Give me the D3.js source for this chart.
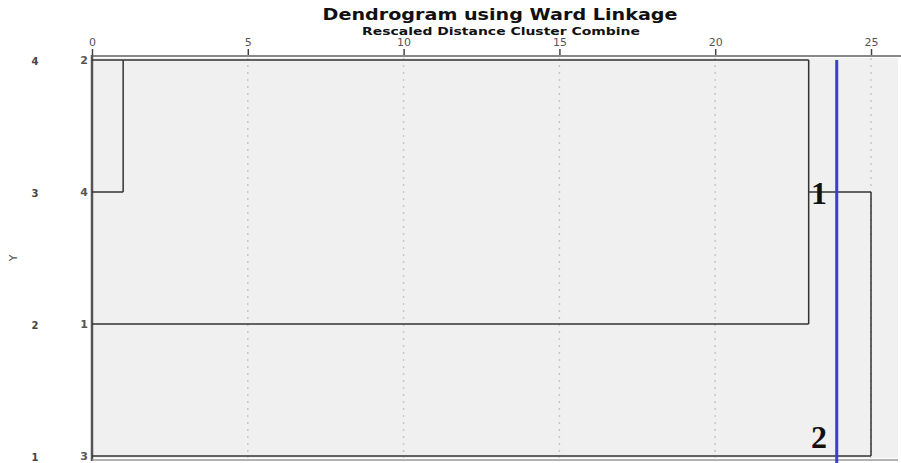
<!DOCTYPE html>
<html>
<head>
<meta charset="utf-8">
<script src="https://cdn.jsdelivr.net/npm/d3@7"></script>
<style>
  body { margin: 0; background: #fff; }
  #svg-container { width: 901px; height: 463px; }
</style>
</head>
<body>
<div id="svg-container"></div>
<script>
// leaves in dendrogram order (top to bottom) and the outer case labels
const leaves = ['2', '4', '1', '3']
const caseLabels = ['4', '3', '2', '1']
const distTicks = [0, 5, 10, 15, 20, 25]

// merges: distance, rows joined (top, bottom)
const mergeDist = [1, 23, 25]
const mergeTop = [0, 0, 1]
const mergeBottom = [1, 2, 3]

// nodes (4 leaves + 2 clusters): row, start distance, index of merge they go into
const nodeRow = [0, 1, 2, 3, 0, 1]
const nodeStart = [0, 0, 0, 0, 1, 23]
const nodeParent = [0, 0, 1, 2, 1, 2]

const cutValue = 23.9
const cutLabels = ['1', '2']
const cutLabelRow = [1, 2.85]

const sans = '"DejaVu Sans", Verdana, sans-serif'
const serif = '"Liberation Serif", "Times New Roman", serif'

const width = 901, height = 463
const svg = d3.select('#svg-container').append('svg')
  .attr('width', width).attr('height', height)

const x = d3.scaleLinear().domain([0, 25]).range([92, 871])
const y = d3.scaleLinear().domain([0, leaves.length - 1]).range([60, 456])

// title
svg.append('text').attr('x', 500).attr('y', 20).attr('text-anchor', 'middle')
  .style('font-family', sans).attr('font-size', 15).attr('font-weight', 'bold').attr('fill', '#111')
  .attr('textLength', 355).attr('lengthAdjust', 'spacingAndGlyphs')
  .text('Dendrogram using Ward Linkage')
svg.append('text').attr('x', 501).attr('y', 35).attr('text-anchor', 'middle')
  .style('font-family', sans).attr('font-size', 10).attr('font-weight', 'bold').attr('fill', '#111')
  .attr('textLength', 278).attr('lengthAdjust', 'spacingAndGlyphs')
  .text('Rescaled Distance Cluster Combine')

// plot area
svg.append('rect').attr('x', x(0)).attr('y', 58).attr('width', 898 - x(0)).attr('height', 400)
  .attr('fill', '#f0f0f0')

// dotted grid
svg.append('g').selectAll('line').data(distTicks.slice(1)).enter().append('line')
  .attr('x1', d => x(d)).attr('x2', d => x(d)).attr('y1', 58).attr('y2', 458)
  .attr('stroke', '#c8c8c8').attr('stroke-width', 1.5).attr('stroke-dasharray', '2,5')

// top axis
const axis = svg.append('g').attr('transform', 'translate(0,55)')
  .call(d3.axisTop(x).tickValues(distTicks).tickSize(6).tickPadding(3))
axis.select('.domain').remove()
axis.selectAll('.tick line').attr('stroke', '#444').attr('stroke-width', 1.5)
axis.selectAll('.tick text').attr('font-size', 11).attr('fill', '#555')
  .style('font-family', sans)
svg.append('line').attr('x1', x(0)).attr('x2', width).attr('y1', 56).attr('y2', 56)
  .attr('stroke', '#888').attr('stroke-width', 2)

// frame
svg.append('line').attr('x1', x(0)).attr('x2', x(0)).attr('y1', 55).attr('y2', 461)
  .attr('stroke', '#555').attr('stroke-width', 2.5)
svg.append('line').attr('x1', x(0)).attr('x2', 898).attr('y1', 460).attr('y2', 460)
  .attr('stroke', '#999').attr('stroke-width', 1.5)

// leaf labels
svg.append('g').selectAll('text').data(leaves).enter().append('text')
  .attr('x', 88).attr('y', (d, i) => y(i)).attr('dy', '0.35em').attr('text-anchor', 'end')
  .style('font-family', sans).attr('font-size', 11).attr('font-weight', 'bold').attr('fill', '#555').text(d => d)
svg.append('g').selectAll('text').data(caseLabels).enter().append('text')
  .attr('x', 35).attr('y', (d, i) => y(i) + 1).attr('dy', '0.35em').attr('text-anchor', 'middle')
  .style('font-family', sans).attr('font-size', 10).attr('font-weight', 'bold').attr('fill', '#444').text(d => d)
svg.append('text').attr('transform', 'translate(17,258) rotate(-90)').attr('text-anchor', 'middle')
  .style('font-family', sans).attr('font-size', 11).attr('fill', '#555').text('Y')

// dendrogram links
const links = svg.append('g').attr('stroke', '#333').attr('stroke-width', 1.5).attr('fill', 'none')
links.selectAll('.h').data(nodeRow).enter().append('line').attr('class', 'h')
  .attr('x1', (d, i) => x(nodeStart[i])).attr('x2', (d, i) => x(mergeDist[nodeParent[i]]))
  .attr('y1', d => y(d)).attr('y2', d => y(d))
links.selectAll('.v').data(mergeDist).enter().append('line').attr('class', 'v')
  .attr('x1', d => x(d)).attr('x2', d => x(d))
  .attr('y1', (d, i) => y(mergeTop[i])).attr('y2', (d, i) => y(mergeBottom[i]))

// cut line
svg.append('line').attr('x1', x(cutValue)).attr('x2', x(cutValue)).attr('y1', 60).attr('y2', height)
  .attr('stroke', '#3a3fd0').attr('stroke-width', 3)
svg.append('g').selectAll('text').data(cutLabels).enter().append('text')
  .attr('x', 819).attr('y', (d, i) => y(cutLabelRow[i]) + 12).attr('text-anchor', 'middle')
  .style('font-family', serif).attr('font-size', 32).attr('font-weight', 'bold').attr('fill', '#111').text(d => d)
</script>
</body>
</html>
